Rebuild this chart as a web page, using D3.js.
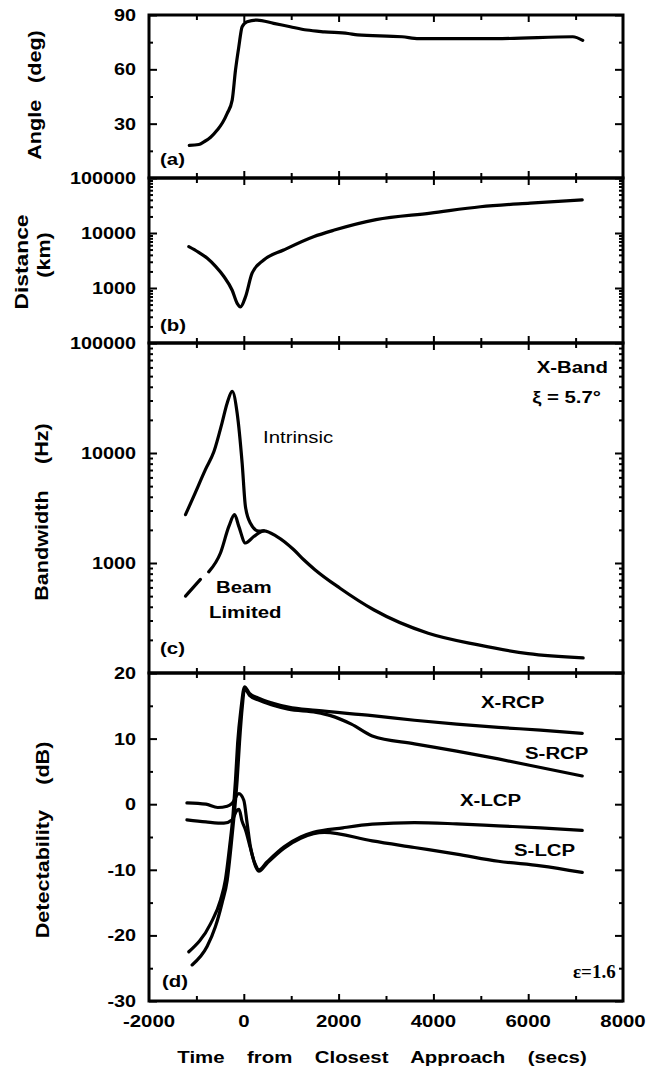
<!DOCTYPE html>
<meta charset="utf-8">
<head>
  <script src="https://d3js.org/d3.v7.min.js"></script>
  <style>
    body { margin: 0; background: #fff; }
    svg { display: block; }
    text { font-family: "Liberation Sans", Arial, sans-serif; font-weight: bold; fill: #000; }
  </style>
</head>
<body>
  <div id="my_dataviz"></div>
  <script>

    // x axis (secs from closest approach)
    var timeLabels = [-2000, 0, 2000, 4000, 6000, 8000];
    var timeMajor = [0, 2000, 4000, 6000];
    var timeMinor = [-1000, 1000, 3000, 5000, 7000];

    // (a) angle, deg
    var angleDeg = [[-1150, 18], [-950, 18.5], [-840, 20], [-700, 22.5], [-560, 26.5], [-450, 30.5], [-350, 35.7],
      [-245, 43], [-175, 59.6], [-105, 72.5], [-35, 83.5], [70, 86.3], [280, 87.2], [630, 85.4], [980, 83.5],
      [1330, 81.7], [1700, 80.7], [2200, 79.8], [2400, 79], [3340, 78], [3690, 77], [5450, 77], [6940, 78],
      [7150, 76]];

    // (b) distance, km
    var distanceKm = [[-1160, 5650], [-960, 4500], [-770, 3470], [-600, 2500], [-420, 1620], [-245, 910],
      [-140, 525], [-70, 455], [35, 690], [175, 1860], [420, 3230], [840, 4900], [1470, 8560], [1910, 11300],
      [2790, 17500], [3940, 23000], [4990, 30000], [6040, 35000], [7140, 40000]];

    // (c) bandwidth, Hz
    var intrinsicHz = [[-1230, 2750], [-1055, 4050], [-810, 7050], [-630, 10300], [-460, 18700], [-350, 28500],
      [-245, 36300], [-140, 23000], [-35, 8100], [35, 3250], [140, 2300], [315, 1950], [420, 1960]];
    var beamHz = [[-1230, 500], [-915, 710], [-740, 830], [-490, 1240], [-315, 2150], [-195, 2750], [-105, 2150],
      [35, 1520], [210, 1740], [420, 1960], [700, 1740], [1055, 1320], [1265, 1070], [1500, 870], [2030, 590],
      [2740, 376], [3890, 230], [4950, 180], [6000, 150], [7160, 137]];

    // (d) detectability, dB
    var xRcp = [[-1160, -22.5], [-700, -18.2], [-490, -14.6], [-390, -11.6], [-300, -6.5], [-225, -1.4], [-175, 3.7],
      [-130, 9.3], [-60, 14.5], [15, 17.9], [120, 16.9], [300, 16.2], [615, 15.4], [940, 14.8], [1530, 14.3],
      [2710, 13.5], [3600, 12.8], [4490, 12.2], [5370, 11.7], [6260, 11.3], [7140, 10.8]];
    var sRcp = [[-1090, -24.5], [-775, -21.7], [-600, -18.7], [-460, -15.1], [-350, -11.6], [-270, -6.5], [-200, -1.4],
      [-140, 3.7], [-90, 9.5], [-30, 15], [15, 17.6], [120, 16.6], [300, 15.9], [615, 15.1], [940, 14.5],
      [1530, 14.0], [1830, 13.5], [2270, 12.2], [2710, 10.4], [3600, 9.2], [4490, 8.1], [5370, 6.9],
      [6260, 5.6], [7140, 4.3]];
    var xLcp = [[-1200, 0.2], [-800, 0], [-550, -0.5], [-350, -0.3], [-250, 0.1], [-105, 1.6], [0, 0.6], [70, -2.9],
      [140, -6.5], [250, -9.3], [320, -10], [490, -8.8], [850, -6.5], [1200, -5.0], [1470, -4.3], [2090, -3.6],
      [2710, -3.05], [3600, -2.8], [4490, -3.0], [5370, -3.3], [6260, -3.6], [7140, -4.0]];
    var sLcp = [[-1200, -2.4], [-800, -2.7], [-420, -2.9], [-250, -2.4], [-140, -0.9], [-100, -0.8], [-40, -2.5],
      [40, -4], [140, -6.7], [250, -9.5], [320, -10.2], [490, -9], [850, -6.7], [1200, -5.2], [1470, -4.5],
      [1700, -4.3], [2710, -5.6], [3600, -6.6], [4490, -7.6], [5370, -8.7], [6260, -9.4], [7140, -10.4]];

    // y tick values
    var angleTicks = [30, 60, 90], angleMinor = [15, 45, 75];
    var logTicks = [1000, 10000, 100000];
    var logMinor = [200, 300, 400, 500, 600, 700, 800, 900, 2000, 3000, 4000, 5000, 6000, 7000, 8000, 9000,
      20000, 30000, 40000, 50000, 60000, 70000, 80000, 90000];
    var dbTicks = [-30, -20, -10, 0, 10, 20], dbMinor = [-25, -15, -5, 5, 15];

    var svg = d3.select("#my_dataviz")
      .append("svg")
      .attr("width", 647)
      .attr("height", 1071);

    var x = d3.scaleLinear().domain([-2000, 8000]).range([149, 623]);

    var yA = d3.scaleLinear().domain([0, 90]).range([178, 15]);
    var yB = d3.scaleLog().domain([100, 100000]).range([343, 178]);
    var yC = d3.scaleLog().domain([100, 100000]).range([673, 343]);
    var yD = d3.scaleLinear().domain([-30, 20]).range([1001, 673]);

    // text with the wide look of the original lettering
    function txt(px, py, s, o) {
      o = o || {};
      var tr = "translate(" + px + "," + py + ")";
      if (o.rot) tr += " rotate(" + o.rot + ")";
      if (o.stretch !== false) tr += " scale(1.2,1)";
      var t = svg.append("text")
        .attr("transform", tr)
        .attr("text-anchor", o.anchor || "start")
        .style("font-size", (o.size || 17) + "px")
        .text(s);
      if (o.ws) t.style("word-spacing", o.ws + "px");
      if (o.font) t.style("font-family", o.font);
      if (o.weight) t.style("font-weight", o.weight);
      return t;
    }

    function tickGroup(sel) {
      sel.select(".domain").remove();
      sel.selectAll("line").attr("stroke", "#000").attr("stroke-width", 2);
    }

    function panel(y, major, minor) {
      var r = y.range();
      var g = svg.append("g");
      // time ticks on bottom and top edges
      [[r[0], d3.axisBottom], [r[1], d3.axisTop]].forEach(function (e) {
        g.append("g").attr("transform", "translate(0," + e[0] + ")")
          .call(e[1](x).tickValues(timeMajor).tickSize(-7).tickFormat(""))
          .call(tickGroup);
        g.append("g").attr("transform", "translate(0," + e[0] + ")")
          .call(e[1](x).tickValues(timeMinor).tickSize(-5).tickFormat(""))
          .call(tickGroup);
      });
      // value ticks on left and right edges
      [[x.range()[0], d3.axisLeft], [x.range()[1], d3.axisRight]].forEach(function (e) {
        g.append("g").attr("transform", "translate(" + e[0] + ",0)")
          .call(e[1](y).tickValues(major).tickSize(-8).tickFormat(""))
          .call(tickGroup);
        g.append("g").attr("transform", "translate(" + e[0] + ",0)")
          .call(e[1](y).tickValues(minor).tickSize(-4).tickFormat(""))
          .call(tickGroup);
      });
      g.append("rect")
        .attr("x", x.range()[0]).attr("y", r[1])
        .attr("width", x.range()[1] - x.range()[0]).attr("height", r[0] - r[1])
        .attr("fill", "none").attr("stroke", "#000").attr("stroke-width", 3);
    }

    panel(yA, angleTicks, angleMinor);
    panel(yB, logTicks, logMinor);
    panel(yC, logTicks, logMinor);
    panel(yD, dbTicks, dbMinor);

    function curve(data, y) {
      var line = d3.line()
        .x(function (d) { return x(d[0]); })
        .y(function (d) { return y(d[1]); })
        .curve(d3.curveMonotoneX);
      svg.append("path")
        .datum(data)
        .attr("d", line)
        .attr("fill", "none")
        .attr("stroke", "#000")
        .attr("stroke-width", 3.2)
        .attr("stroke-linejoin", "round")
        .attr("stroke-linecap", "round");
    }

    curve(angleDeg, yA);
    curve(distanceKm, yB);
    curve(intrinsicHz, yC);
    curve(beamHz.slice(0, 2), yC);   // broken start of the beam limited curve
    curve(beamHz.slice(2), yC);
    curve(xRcp, yD);
    curve(sRcp, yD);
    curve(xLcp, yD);
    curve(sLcp, yD);

    // tick labels
    angleTicks.forEach(function (v) { txt(136, yA(v) + 6, v, { anchor: "end", size: 16.5 }); });
    logTicks.forEach(function (v) { txt(136, yB(v) + 6, v, { anchor: "end", size: 16.5 }); });
    logTicks.forEach(function (v) { txt(136, yC(v) + 6, v, { anchor: "end", size: 16.5 }); });
    dbTicks.forEach(function (v) { txt(136, yD(v) + 6, v, { anchor: "end", size: 16.5 }); });
    timeLabels.forEach(function (v) { txt(x(v), 1027, v, { anchor: "middle" }); });

    // axis titles
    txt(41, 95, "Angle (deg)", { rot: -90, anchor: "middle", size: 18, ws: 9 });
    txt(28, 262, "Distance", { rot: -90, anchor: "middle", size: 19 });
    txt(50, 255, "(km)", { rot: -90, anchor: "middle", size: 18 });
    txt(48, 512, "Bandwidth (Hz)", { rot: -90, anchor: "middle", size: 18, ws: 17 });
    txt(49, 840, "Detectability (dB)", { rot: -90, anchor: "middle", size: 18, ws: 16 });
    txt(382, 1063, "Time from Closest Approach (secs)", { anchor: "middle", ws: 14 });

    // panel tags and annotations
    txt(160, 165, "(a)");
    txt(160, 331, "(b)");
    txt(160, 654, "(c)");
    txt(162, 987, "(d)");
    txt(608, 373, "X-Band", { anchor: "end" });
    txt(601, 403, "\u03be = 5.7\u00b0", { anchor: "end" });
    txt(263, 443, "Intrinsic", { weight: "normal" });
    txt(216, 593, "Beam");
    txt(209, 618, "Limited");
    txt(481, 708, "X-RCP");
    txt(525, 759, "S-RCP");
    txt(460, 806, "X-LCP");
    txt(514, 856, "S-LCP");
    txt(573, 978, "\u03b5=1.6", { font: "'Liberation Serif', serif", size: 19, stretch: false });

  </script>
</body>
